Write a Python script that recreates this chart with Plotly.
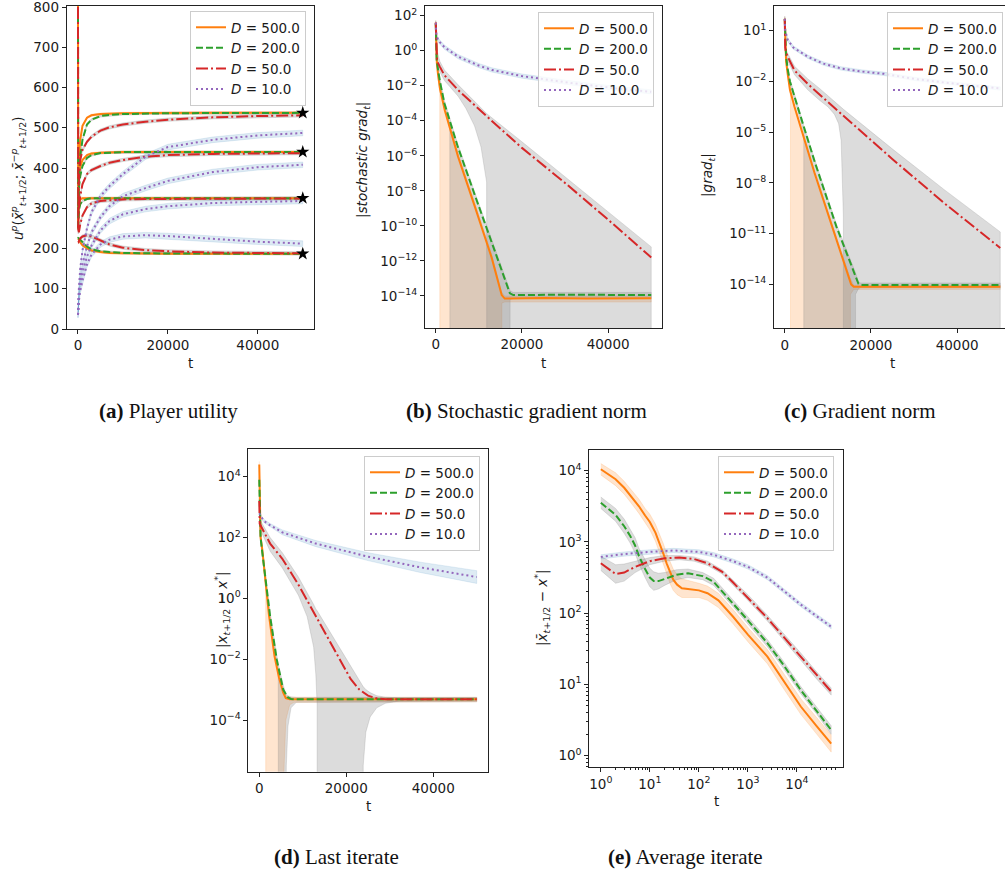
import plotly.graph_objects as go

W, H = 1005, 876

# ---------------- data ----------------
D_VALUES = [500.0, 200.0, 50.0, 10.0]
LEGEND_LABELS = ["<i>D</i> = %.1f" % d for d in D_VALUES]

# (a) player utility, 4 players x 4 values of D
T_A = [0, 50, 200, 500, 1000, 2000, 3000, 5000, 7000, 10000, 15000, 20000, 30000, 40000, 50000]
U1_D500 = [850, 300, 420, 470, 505, 525, 531, 534, 535, 536, 536.5, 537, 537, 537, 537]
U1_D200 = [850, 280, 380, 430, 470, 508, 520, 529, 532, 534, 535.5, 536, 536.5, 537, 537]
U1_D50 = [850, 280, 370, 420, 445, 465, 478, 493, 501, 508, 515, 520, 526, 529, 531]
U1_D10 = [35, 60, 100, 150, 195, 250, 290, 330, 355, 385, 428, 452, 470, 481, 487]
U2_D500 = [250, 330, 380, 402, 420, 432, 436, 438, 439, 440, 440, 440, 440, 440, 440]
U2_D200 = [250, 300, 350, 380, 405, 425, 432, 437, 438.5, 439.5, 440, 440, 440, 440, 440]
U2_D50 = [250, 270, 300, 330, 360, 385, 395, 405, 413, 420, 428, 432, 435, 436, 437]
U2_D10 = [35, 55, 90, 125, 160, 205, 240, 278, 305, 330, 350, 368, 390, 402, 408]
U3_D500 = [250, 260, 310, 322, 325, 325, 325, 325, 325, 325, 325, 325, 325, 325, 325]
U3_D200 = [250, 255, 295, 310, 318, 323, 325, 325, 325, 325, 325, 325, 325, 325, 325]
U3_D50 = [250, 240, 240, 260, 282, 303, 312, 318, 320, 322, 323, 323.5, 324, 324, 324.5]
U3_D10 = [35, 50, 80, 110, 140, 180, 207, 245, 268, 285, 298, 305, 313, 316, 318]
U4_D500 = [225, 225, 222, 215, 208, 200, 195, 191, 189, 188, 187.5, 187, 187, 187, 187]
U4_D200 = [225, 226, 225, 222, 215, 205, 198, 193, 191, 189, 188, 187.5, 187, 187, 187]
U4_D50 = [215, 215, 218, 225, 230, 233, 230, 220, 210, 202, 196, 193, 190, 189, 188]
U4_D10 = [35, 48, 70, 95, 120, 160, 185, 210, 222, 230, 233, 231, 224, 217, 212]
EQUILIBRIUM_UTILITY = [537, 440, 325, 187]
SPREAD_A = [2.5, 2.5, 4.0, 7.0]

# (b) stochastic gradient norm (log10 values)
TB_D500 = [0, 100, 250, 540, 1000, 2090, 5190, 9070, 12950, 15300, 16000, 25000, 35000, 50000]
LB_D500 = [1.6, 0.3, -0.7, -1.4, -2.2, -3.4, -6.06, -8.9, -11.8, -13.95, -14.15, -14.12, -14.15, -14.13]
TB_D200 = [0, 100, 200, 600, 1000, 2000, 5000, 9000, 13000, 17200, 18000, 30000, 50000]
LB_D200 = [1.55, 0.2, -0.5, -1.2, -1.8, -3.0, -5.4, -8.2, -11.0, -13.85, -13.95, -13.93, -13.95]
TB_D50 = [0, 100, 300, 930, 2000, 5190, 10000, 12950, 20000, 25350, 30000, 40000, 50000]
LB_D50 = [1.6, 0.0, -0.6, -0.91, -1.4, -2.25, -3.35, -4.0, -5.55, -6.6, -7.55, -9.65, -11.8]
TB_D10 = [0, 100, 540, 2000, 5190, 10000, 13000, 20000, 23000, 30000, 40000, 50000]
LB_D10 = [1.6, 1.0, 0.6, 0.2, -0.34, -0.85, -1.1, -1.45, -1.55, -1.8, -2.1, -2.35]
BB_D500_T = [0, 100, 250, 540, 930, 950, 2090, 5190, 9070, 12950, 15300, 15350, 16000, 50000]
BB_D500_UP = [1.75, 0.45, -0.55, -1.25, -1.95, -1.97, -3.2, -5.85, -8.7, -11.6, -13.8, -13.8, -14.0, -14.0]
BB_D500_LO = [1.45, 0.15, -0.85, -1.55, -2.45, -30, -30, -30, -30, -30, -30, -14.4, -14.35, -14.35]
BB_D200_T = [0, 200, 600, 1000, 2000, 3250, 3300, 5000, 9000, 13000, 17200, 17250, 18000, 50000]
BB_D200_UP = [1.7, -0.35, -1.05, -1.65, -2.85, -3.8, -3.85, -5.25, -8.05, -10.85, -13.7, -13.7, -13.8, -13.8]
BB_D200_LO = [1.4, -0.65, -1.35, -1.95, -3.15, -4.2, -30, -30, -30, -30, -30, -14.2, -14.15, -14.15]
BB_D50_T = [0, 100, 930, 2000, 5190, 7000, 9000, 10500, 11800, 11850, 20000, 30000, 40000, 50000]
BB_D50_UP = [1.7, 0.2, -0.6, -1.1, -1.95, -2.4, -2.9, -3.3, -3.6, -3.6, -5.2, -7.2, -9.2, -11.2]
BB_D50_LO = [1.4, -0.2, -1.2, -1.7, -2.6, -3.3, -4.3, -5.5, -7.5, -30, -30, -30, -30, -30]
SPREAD_B_D10 = 0.12

# (c) gradient norm (log10 values)
TC_D500 = [0, 100, 300, 700, 1200, 2250, 6890, 11530, 15000, 15400, 16000, 50000]
LC_D500 = [1.7, 0.3, -0.8, -1.6, -2.5, -3.5, -7.4, -11.0, -13.7, -14.0, -14.14, -14.14]
TC_D200 = [0, 100, 300, 700, 1200, 2500, 7000, 12000, 16700, 17100, 17600, 50000]
LC_D200 = [1.7, 0.5, -0.5, -1.3, -2.0, -3.1, -6.8, -10.6, -13.75, -13.97, -14.04, -14.04]
TC_D50 = [0, 100, 300, 700, 2250, 5340, 13000, 25000, 37000, 50000]
LC_D50 = [1.7, 0.0, -0.3, -0.55, -1.35, -2.15, -3.9, -6.6, -9.2, -11.85]
TC_D10 = [0, 100, 700, 2000, 5340, 9000, 13000, 18000, 23000, 30000, 40000, 50000]
LC_D10 = [1.7, 1.0, 0.45, 0.0, -0.54, -0.95, -1.23, -1.42, -1.55, -1.85, -2.15, -2.42]
BC_D500_T = [0, 100, 300, 700, 1200, 1320, 1340, 2250, 6890, 11530, 15200, 15240, 16000, 50000]
BC_D500_UP = [1.85, 0.45, -0.65, -1.45, -2.35, -2.45, -2.47, -3.35, -7.25, -10.85, -13.6, -13.65, -14.05, -14.05]
BC_D500_LO = [1.55, 0.15, -0.95, -1.75, -2.65, -2.8, -30, -30, -30, -30, -30, -14.6, -14.3, -14.3]
BC_D200_T = [0, 100, 300, 700, 1200, 2500, 4400, 4420, 7000, 12000, 16400, 16420, 17100, 17600, 50000]
BC_D200_UP = [1.85, 0.65, -0.35, -1.15, -1.85, -2.95, -4.6, -4.62, -6.65, -10.45, -13.3, -13.32, -13.85, -13.92, -13.92]
BC_D200_LO = [1.55, 0.35, -0.65, -1.45, -2.15, -3.25, -5.0, -30, -30, -30, -30, -14.6, -14.25, -14.2, -14.2]
BC_D50_T = [0, 100, 300, 700, 2250, 3800, 5340, 8000, 10000, 11530, 12500, 13080, 13400, 13600, 13620, 25000, 37000, 50000]
BC_D50_UP = [1.85, 0.2, -0.1, -0.35, -1.1, -1.5, -1.85, -2.4, -2.85, -3.2, -3.4, -3.5, -3.6, -3.65, -3.65, -6.0, -8.4, -10.9]
BC_D50_LO = [1.55, -0.2, -0.5, -0.8, -1.6, -2.05, -2.5, -3.1, -3.5, -3.95, -4.5, -5.5, -7.5, -10, -30, -30, -30, -30]
SPREAD_C_D10 = 0.1

# (d) last iterate (log10 values)
TD_D500 = [0, 100, 300, 690, 1500, 2230, 3500, 4530, 5500, 6100, 7000, 50000]
LD_D500 = [4.4, 2.6, 2.0, 1.6, 0.5, -0.55, -1.9, -2.6, -3.1, -3.28, -3.32, -3.32]
TD_D200 = [0, 100, 300, 700, 1500, 2500, 4000, 5500, 6500, 7300, 8000, 50000]
LD_D200 = [3.9, 2.5, 2.0, 1.5, 0.6, -0.6, -2.0, -3.0, -3.25, -3.31, -3.32, -3.32]
TD_D50 = [0, 100, 2500, 5300, 9000, 13000, 17000, 21000, 23000, 25000, 27000, 29000, 50000]
LD_D50 = [3.2, 2.45, 1.8, 1.3, 0.45, -0.6, -1.6, -2.65, -3.0, -3.2, -3.29, -3.32, -3.32]
TD_D10 = [0, 1000, 2500, 5290, 13000, 25000, 37000, 50000]
LD_D10 = [2.8, 2.55, 2.4, 2.17, 1.8, 1.37, 1.02, 0.7]
SPREAD_D_D10 = [0.05, 0.05, 0.06, 0.08, 0.1, 0.13, 0.17, 0.21]
BD_D500_T = [0, 100, 300, 690, 1480, 1500, 2230, 3500, 4530, 5500, 5700, 5720, 6100, 7000, 8000, 50000]
BD_D500_UP = [4.5, 2.75, 2.15, 1.75, 0.67, 0.65, -0.4, -1.75, -2.45, -2.95, -3.05, -3.06, -3.2, -3.25, -3.25, -3.25]
BD_D500_LO = [4.2, 2.45, 1.85, 1.45, 0.35, -30, -30, -30, -30, -30, -30, -5.5, -4.0, -3.5, -3.42, -3.4]
BD_D200_T = [0, 100, 300, 700, 1500, 2500, 4000, 4370, 4390, 5500, 6200, 6220, 6600, 7300, 8500, 50000]
BD_D200_UP = [4.0, 2.65, 2.15, 1.65, 0.75, -0.45, -1.85, -2.15, -2.17, -2.85, -3.15, -3.16, -3.2, -3.24, -3.26, -3.26]
BD_D200_LO = [3.8, 2.35, 1.85, 1.35, 0.45, -0.75, -2.15, -2.5, -30, -30, -30, -5.5, -4.2, -3.6, -3.42, -3.4]
BD_D50_T = [0, 100, 2500, 5300, 9000, 11000, 12500, 13000, 13300, 13320, 23880, 23900, 24500, 25500, 27000, 29000, 32000, 50000]
BD_D50_UP = [3.3, 2.6, 2.0, 1.5, 0.7, 0.2, -0.2, -0.35, -0.4, -0.41, -2.9, -2.9, -3.0, -3.1, -3.2, -3.25, -3.27, -3.27]
BD_D50_LO = [3.1, 2.3, 1.55, 1.0, 0.1, -0.6, -1.6, -2.5, -3.5, -30, -30, -5.5, -4.4, -3.9, -3.6, -3.45, -3.38, -3.36]

# (e) average iterate (log10 values, log-log)
TE_D500 = [1, 2, 3, 4, 6, 8, 10, 13, 16, 19, 22, 26, 30, 36, 45, 60, 80, 100, 150, 250, 500, 1000, 2500, 5000, 12000, 25000, 50000]
LE_D500 = [4.02, 3.88, 3.76, 3.65, 3.50, 3.37, 3.28, 3.13, 2.98, 2.83, 2.70, 2.56, 2.47, 2.40, 2.35, 2.34, 2.33, 2.32, 2.28, 2.18, 1.95, 1.70, 1.39, 1.08, 0.69, 0.42, 0.17]
SE_D500 = [0.08, 0.09, 0.09, 0.09, 0.1, 0.1, 0.11, 0.12, 0.13, 0.14, 0.14, 0.15, 0.15, 0.14, 0.13, 0.12, 0.11, 0.1, 0.1, 0.1, 0.1, 0.1, 0.1, 0.11, 0.11, 0.12, 0.12]
TE_D200 = [1, 2, 3, 4, 5, 6, 8, 10, 12, 15, 20, 35, 60, 120, 200, 500, 1000, 2500, 5000, 12000, 25000, 50000]
LE_D200 = [3.55, 3.38, 3.22, 3.08, 2.95, 2.80, 2.62, 2.50, 2.45, 2.45, 2.48, 2.54, 2.56, 2.52, 2.44, 2.14, 1.90, 1.58, 1.30, 0.92, 0.64, 0.36]
SE_D200 = [0.08, 0.09, 0.1, 0.1, 0.11, 0.11, 0.12, 0.13, 0.13, 0.11, 0.09, 0.07, 0.06, 0.05, 0.05, 0.05, 0.05, 0.05, 0.05, 0.05, 0.05, 0.06]
TE_D50 = [1, 2, 3, 5, 10, 20, 40, 80, 150, 300, 500, 1000, 2500, 5000, 12000, 25000, 50000]
LE_D50 = [2.70, 2.55, 2.57, 2.65, 2.73, 2.77, 2.78, 2.76, 2.70, 2.58, 2.43, 2.22, 1.93, 1.69, 1.39, 1.13, 0.90]
SE_D50 = [0.1, 0.13, 0.12, 0.08, 0.05, 0.04, 0.03, 0.03, 0.03, 0.03, 0.03, 0.04, 0.04, 0.05, 0.05, 0.05, 0.05]
TE_D10 = [1, 3, 10, 30, 100, 200, 500, 1000, 2500, 5000, 12000, 25000, 50000]
LE_D10 = [2.79, 2.83, 2.86, 2.88, 2.86, 2.82, 2.73, 2.65, 2.50, 2.33, 2.12, 1.96, 1.81]
SE_D10 = 0.03

# ---------------- style ----------------
LINE_COLORS = ['#ff7f0e', '#2ca02c', '#d62728', '#9467bd']
DASHES = ['solid', '7px,3px', '12px,3px,2px,3px', '2px,3px']
BAND_COLORS = ['rgba(255,127,14,0.2)', 'rgba(128,128,128,0.28)',
               'rgba(128,128,128,0.28)', 'rgba(31,119,180,0.15)']
FONT = 'DejaVu Sans'
TXT = '#1a1a1a'


def lin(vals):
    return [10 ** v for v in vals]


fig = go.Figure()


def ax_ids(k):
    return ('x' if k == 1 else 'x%d' % k), ('y' if k == 1 else 'y%d' % k), \
        ('legend' if k == 1 else 'legend%d' % k)


def add_band(k, t, lo, up, color):
    xa, ya, _ = ax_ids(k)
    fig.add_trace(go.Scatter(x=list(t) + list(t)[::-1], y=list(up) + list(lo)[::-1],
                             mode='lines', fill='toself', fillcolor=color,
                             line=dict(color=color, width=0.8), hoverinfo='skip',
                             showlegend=False, xaxis=xa, yaxis=ya))


def add_line(k, t, y, i, show=True):
    xa, ya, lg = ax_ids(k)
    fig.add_trace(go.Scatter(x=t, y=y, mode='lines', name=LEGEND_LABELS[i],
                             line=dict(color=LINE_COLORS[i], width=2, dash=DASHES[i]),
                             legendgroup='g%d_%d' % (k, i), showlegend=show,
                             xaxis=xa, yaxis=ya, legend=lg))


# ---- panel (a)
players = [[U1_D500, U1_D200, U1_D50, U1_D10], [U2_D500, U2_D200, U2_D50, U2_D10],
           [U3_D500, U3_D200, U3_D50, U3_D10], [U4_D500, U4_D200, U4_D50, U4_D10]]
for i in range(4):
    for p in players:
        add_band(1, T_A, [v - SPREAD_A[i] for v in p[i]], [v + SPREAD_A[i] for v in p[i]], BAND_COLORS[i])
for i in range(4):
    for j, p in enumerate(players):
        add_line(1, T_A, p[i], i, show=(j == 0))
fig.add_trace(go.Scatter(x=[T_A[-1]] * len(EQUILIBRIUM_UTILITY), y=EQUILIBRIUM_UTILITY, mode='markers',
                         marker=dict(symbol='star', size=10, color='black'), showlegend=False,
                         xaxis='x', yaxis='y'))

# ---- panel (b)
add_band(2, BB_D500_T, lin(BB_D500_LO), lin(BB_D500_UP), BAND_COLORS[0])
add_band(2, BB_D200_T, lin(BB_D200_LO), lin(BB_D200_UP), BAND_COLORS[1])
add_band(2, BB_D50_T, lin(BB_D50_LO), lin(BB_D50_UP), BAND_COLORS[2])
add_band(2, TB_D10, lin([v - SPREAD_B_D10 for v in LB_D10]), lin([v + SPREAD_B_D10 for v in LB_D10]), BAND_COLORS[3])
for i, (t, v) in enumerate([(TB_D500, LB_D500), (TB_D200, LB_D200), (TB_D50, LB_D50), (TB_D10, LB_D10)]):
    add_line(2, t, lin(v), i)

# ---- panel (c)
add_band(3, BC_D500_T, lin(BC_D500_LO), lin(BC_D500_UP), BAND_COLORS[0])
add_band(3, BC_D200_T, lin(BC_D200_LO), lin(BC_D200_UP), BAND_COLORS[1])
add_band(3, BC_D50_T, lin(BC_D50_LO), lin(BC_D50_UP), BAND_COLORS[2])
add_band(3, TC_D10, lin([v - SPREAD_C_D10 for v in LC_D10]), lin([v + SPREAD_C_D10 for v in LC_D10]), BAND_COLORS[3])
for i, (t, v) in enumerate([(TC_D500, LC_D500), (TC_D200, LC_D200), (TC_D50, LC_D50), (TC_D10, LC_D10)]):
    add_line(3, t, lin(v), i)

# ---- panel (d)
add_band(4, BD_D500_T, lin(BD_D500_LO), lin(BD_D500_UP), BAND_COLORS[0])
add_band(4, BD_D200_T, lin(BD_D200_LO), lin(BD_D200_UP), BAND_COLORS[1])
add_band(4, BD_D50_T, lin(BD_D50_LO), lin(BD_D50_UP), BAND_COLORS[2])
add_band(4, TD_D10, lin([v - s for v, s in zip(LD_D10, SPREAD_D_D10)]),
         lin([v + s for v, s in zip(LD_D10, SPREAD_D_D10)]), BAND_COLORS[3])
for i, (t, v) in enumerate([(TD_D500, LD_D500), (TD_D200, LD_D200), (TD_D50, LD_D50), (TD_D10, LD_D10)]):
    add_line(4, t, lin(v), i)

# ---- panel (e)
E_SERIES = [(TE_D500, LE_D500, SE_D500), (TE_D200, LE_D200, SE_D200),
            (TE_D50, LE_D50, SE_D50), (TE_D10, LE_D10, [SE_D10] * len(LE_D10))]
for i, (t, v, s) in enumerate(E_SERIES):
    add_band(5, t, lin([a - b for a, b in zip(v, s)]), lin([a + b for a, b in zip(v, s)]), BAND_COLORS[i])
for i, (t, v, s) in enumerate(E_SERIES):
    add_line(5, t, lin(v), i)

# ---------------- layout ----------------
# panel pixel boxes: left, right, top, bottom
BOXES = {1: (66.75, 314.0, 6.0, 329.0), 2: (425.0, 662.0, 6.0, 328.0), 3: (774.0, 1005.0, 6.0, 328.3),
         4: (248.4, 487.6, 449.0, 771.7), 5: (589.3, 842.7, 450.0, 767.3)}
X_RANGES = {1: [-2500, 52500], 2: [-2500, 52500], 3: [-2500, 51100], 4: [-2500, 52500], 5: [-0.235, 4.934]}
Y_RANGES = {1: [0, 802.5], 2: [-15.83, 2.55], 3: [-16.6, 2.46], 4: [-5.70, 4.91], 5: [-0.163, 4.29]}


def sup(e):
    return '10<sup>%s</sup>' % (str(e).replace('-', '\u2212'))


Y_TICKS = {2: [2, 0, -2, -4, -6, -8, -10, -12, -14], 3: [1, -2, -5, -8, -11, -14],
           4: [4, 2, 0, -2, -4], 5: [0, 1, 2, 3, 4]}
MINOR_E_X = [m * 10 ** k for k in range(0, 5) for m in range(2, 10) if m * 10 ** k <= 60000]
MINOR_E_Y = [m * 10 ** k for k in range(-1, 5) for m in range(2, 10) if 0.6 < m * 10 ** k < 20000]

tickfont = dict(family=FONT, size=13.5, color=TXT)
layout = dict(width=W, height=H, margin=dict(l=0, r=0, t=0, b=0, autoexpand=False),
              paper_bgcolor='white', plot_bgcolor='white', showlegend=True)
for k, (l, r, t, b) in BOXES.items():
    sx = '' if k == 1 else str(k)
    common = dict(showline=True, mirror=True, linecolor='#222', linewidth=1, ticks='outside',
                  ticklen=4, tickwidth=1, tickcolor='#222', showgrid=False, zeroline=False,
                  tickfont=tickfont, ticklabeloverflow='allow')
    xa = dict(common, domain=[l / W, min(r / W, 1.0)], anchor='y' + sx, range=X_RANGES[k])
    ya = dict(common, domain=[1 - b / H, 1 - t / H], anchor='x' + sx, range=Y_RANGES[k])
    if k == 5:
        xa.update(type='log', tickvals=[1, 10, 100, 1000, 10000], ticktext=[sup(e) for e in range(5)],
                  minor=dict(tickvals=MINOR_E_X, ticks='outside', ticklen=2, tickcolor='#222'))
        ya.update(type='log', tickvals=[10 ** e for e in Y_TICKS[5]], ticktext=[sup(e) for e in Y_TICKS[5]],
                  minor=dict(tickvals=MINOR_E_Y, ticks='outside', ticklen=2, tickcolor='#222'))
    else:
        xa.update(tickvals=[0, 20000, 40000], ticktext=['0', '20000', '40000'])
        if k == 1:
            ya.update(tickvals=[0, 100, 200, 300, 400, 500, 600, 700, 800])
        else:
            ya.update(type='log', tickvals=[10 ** e for e in Y_TICKS[k]], ticktext=[sup(e) for e in Y_TICKS[k]])
    layout['xaxis' + sx] = xa
    layout['yaxis' + sx] = ya

LEGEND_POS = {1: (190, 11), 2: (538, 12), 3: (887, 12), 4: (364, 456), 5: (718, 456)}
for k, (lx, ly) in LEGEND_POS.items():
    layout['legend' if k == 1 else 'legend%d' % k] = dict(
        x=lx / W, y=1 - ly / H, xanchor='left', yanchor='top', bgcolor='rgba(255,255,255,0.8)',
        bordercolor='#cccccc', borderwidth=1, font=dict(family=FONT, size=13.5, color=TXT),
        itemwidth=30, tracegroupgap=0, traceorder='normal')

fig.update_layout(**layout)

ann = []
Y_TITLES = [
    (18, 178, '<i>u<sup>p</sup></i>(<i>x\u0304</i><sup><i>p</i></sup><sub><i>t</i>+1/2</sub>; '
              '<i>x\u0304</i><sup>\u2212<i>p</i></sup><sub><i>t</i>+1/2</sub>)'),
    (363, 160, '|<i>stochastic grad<sub>t</sub></i>|'),
    (708, 175, '|<i>grad<sub>t</sub></i>|'),
    (222, 610, '|<i>x</i><sub><i>t</i>+1/2</sub> \u2212 <i>x</i><sup>*</sup>|'),
    (542, 608, '|<i>x\u0304</i><sub><i>t</i>+1/2</sub> \u2212 <i>x</i><sup>*</sup>|'),
]
for x, y, txt in Y_TITLES:
    ann.append(dict(x=x / W, y=1 - y / H, xref='paper', yref='paper', text=txt, showarrow=False,
                    textangle=-90, font=dict(family=FONT, size=13.5, color=TXT),
                    xanchor='center', yanchor='middle'))
for x, y in [(190, 363), (543.5, 363), (892, 363), (368, 806), (716, 801)]:
    ann.append(dict(x=x / W, y=1 - y / H, xref='paper', yref='paper', text='t', showarrow=False,
                    font=dict(family=FONT, size=13.5, color=TXT), xanchor='center', yanchor='middle'))
CAPTIONS = [(168, 411, 'a', 'Player utility'), (526, 411, 'b', 'Stochastic gradient norm'),
            (860, 411, 'c', 'Gradient norm'), (336, 857, 'd', 'Last iterate'),
            (685, 857, 'e', 'Average iterate')]
for x, y, letter, txt in CAPTIONS:
    ann.append(dict(x=x / W, y=1 - y / H, xref='paper', yref='paper', text='<b>(%s)</b> %s' % (letter, txt),
                    showarrow=False, font=dict(family='Liberation Serif', size=21, color='#111'),
                    xanchor='center', yanchor='middle'))
fig.update_layout(annotations=ann)

fig.write_html('out.html', config={'displayModeBar': False},
               post_script="document.body.style.margin='0';document.body.style.overflow='hidden';")
